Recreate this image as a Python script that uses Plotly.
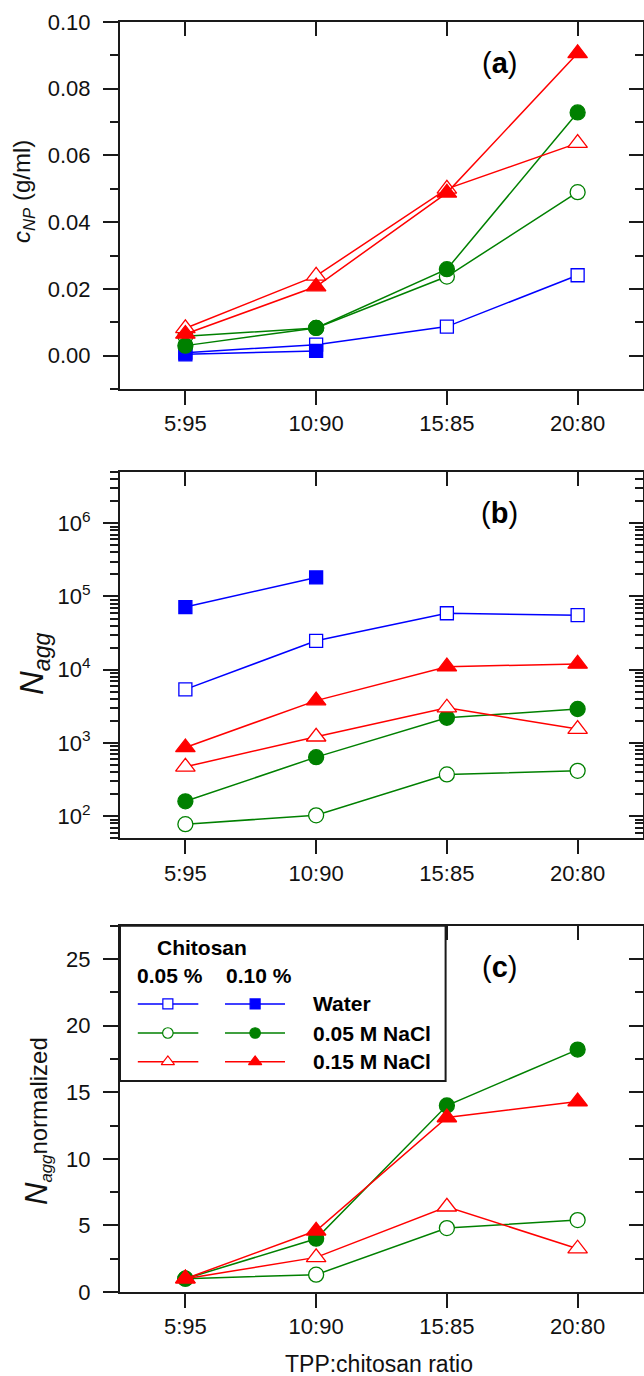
import math
import plotly.graph_objects as go

# ---------------- data ----------------
categories = ["5:95", "10:90", "15:85", "20:80"]
solvents = ["Water", "0.05 M NaCl", "0.15 M NaCl"]
chitosan_conc = ["0.05 %", "0.10 %"]

# (a) c_NP (g/ml)
cnp_water_005 = [0.0009, 0.0033, 0.0087, 0.0241]
cnp_water_010 = [0.0004, 0.0014, None, None]
cnp_nacl005_005 = [0.0058, 0.0083, 0.0237, 0.0490]
cnp_nacl005_010 = [0.0030, 0.0083, 0.0259, 0.0729]
cnp_nacl015_005 = [0.0082, 0.0239, 0.0500, 0.0637]
cnp_nacl015_010 = [0.0065, 0.0207, 0.0488, 0.0906]

# (b) N_agg
nagg_water_005 = [5400, 24800, 59000, 55600]
nagg_water_010 = [71600, 182000, None, None]
nagg_nacl005_005 = [78, 103, 372, 417]
nagg_nacl005_010 = [160, 641, 2210, 2910]
nagg_nacl015_005 = [473, 1216, 3030, 1550]
nagg_nacl015_010 = [869, 3790, 11000, 12000]

# (c) N_agg normalized
norm_nacl005_005 = [1.0, 1.3, 4.8, 5.4]
norm_nacl005_010 = [1.0, 4.0, 14.0, 18.2]
norm_nacl015_005 = [1.0, 2.6, 6.4, 3.25]
norm_nacl015_010 = [1.0, 4.6, 13.1, 14.3]

panel_labels = ["a", "b", "c"]
ya_title = "<i>c</i><sub><i>NP</i></sub> (g/ml)"
yb_title = "<i>N</i><sub><i>agg</i></sub>"
yc_title = "<i><span style='font-size:31px'>N</span></i><sub><i>agg</i></sub>normalized"
x_title = "TPP:chitosan ratio"
log_major = [1e2, 1e3, 1e4, 1e5, 1e6]
log_major_text = ["10<sup>2</sup>", "10<sup>3</sup>", "10<sup>4</sup>", "10<sup>5</sup>", "10<sup>6</sup>"]

# ---------------- style ----------------
FONT = "Liberation Sans, Arial, Helvetica, sans-serif"
AXC = "#1a1a1a"
colors = {"Water": "#0000ff", "0.05 M NaCl": "#008000", "0.15 M NaCl": "#ff0000"}
symbols = {"Water": "square", "0.05 M NaCl": "circle", "0.15 M NaCl": "triangle-up"}
msize = {"Water": 13, "0.05 M NaCl": 15, "0.15 M NaCl": 17}
lsize = {"Water": 10, "0.05 M NaCl": 10.5, "0.15 M NaCl": 11.5}

fig = go.Figure()


def add_series(y, solvent, filled, xa, ya):
    col = colors[solvent]
    fig.add_trace(go.Scatter(
        x=categories, y=y, mode="lines+markers",
        line=dict(color=col, width=1.5),
        marker=dict(symbol=symbols[solvent], size=msize[solvent],
                    color=col if filled else "white",
                    line=dict(color=col, width=1.3)),
        xaxis=xa, yaxis=ya, showlegend=False, hoverinfo="skip"))


panel_a = [(cnp_water_005, "Water", False), (cnp_water_010, "Water", True),
           (cnp_nacl005_005, "0.05 M NaCl", False), (cnp_nacl005_010, "0.05 M NaCl", True),
           (cnp_nacl015_005, "0.15 M NaCl", False), (cnp_nacl015_010, "0.15 M NaCl", True)]
panel_b = [(nagg_water_005, "Water", False), (nagg_water_010, "Water", True),
           (nagg_nacl005_005, "0.05 M NaCl", False), (nagg_nacl005_010, "0.05 M NaCl", True),
           (nagg_nacl015_005, "0.15 M NaCl", False), (nagg_nacl015_010, "0.15 M NaCl", True)]
panel_c = [(norm_nacl005_005, "0.05 M NaCl", False), (norm_nacl005_010, "0.05 M NaCl", True),
           (norm_nacl015_005, "0.15 M NaCl", False), (norm_nacl015_010, "0.15 M NaCl", True)]

for y, s, f in panel_a:
    add_series(y, s, f, "x", "y")
for y, s, f in panel_b:
    add_series(y, s, f, "x2", "y2")
for y, s, f in panel_c:
    add_series(y, s, f, "x3", "y3")

# dummy traces to activate mirror-tick overlay axes
for xa, ya in [("x4", "y4"), ("x5", "y5"), ("x6", "y6")]:
    fig.add_trace(go.Scatter(x=categories, y=[None] * len(categories), xaxis=xa, yaxis=ya,
                             showlegend=False, hoverinfo="skip", mode="markers"))

# ---------------- legend (panel c) ----------------
leg_rows_y = [0.496, 0.309, 0.124]
leg_cols = [(0.0547, 0.2405, 0.147), (0.3225, 0.5068, 0.415)]
for r, solvent in enumerate(solvents):
    col = colors[solvent]
    for c, (x0, x1, xm) in enumerate(leg_cols):
        filled = c == 1
        fig.add_trace(go.Scatter(x=[x0, x1], y=[leg_rows_y[r]] * 2, mode="lines",
                                 line=dict(color=col, width=1.5), xaxis="x7", yaxis="y7",
                                 showlegend=False, hoverinfo="skip"))
        fig.add_trace(go.Scatter(x=[xm], y=[leg_rows_y[r]], mode="markers",
                                 marker=dict(symbol=symbols[solvent], size=lsize[solvent],
                                             color=col if filled else "white",
                                             line=dict(color=col, width=1.2)),
                                 xaxis="x7", yaxis="y7", showlegend=False, hoverinfo="skip"))

annotations = []
for r, solvent in enumerate(solvents):
    annotations.append(dict(x=0.588, y=leg_rows_y[r], xref="x7", yref="y7", text="<b>%s</b>" % solvent,
                            showarrow=False, xanchor="left", yanchor="middle",
                            font=dict(family=FONT, size=21, color="black")))
annotations.append(dict(x=0.252, y=0.860, xref="x7", yref="y7", text="<b>Chitosan</b>",
                        showarrow=False, xanchor="center", yanchor="middle",
                        font=dict(family=FONT, size=21, color="black")))
for c, txt in enumerate(chitosan_conc):
    annotations.append(dict(x=[0.155, 0.427][c], y=0.677, xref="x7", yref="y7", text="<b>%s</b>" % txt,
                            showarrow=False, xanchor="center", yanchor="middle",
                            font=dict(family=FONT, size=21, color="black")))

# ---------------- layout ----------------
W, H = 644, 1376
L, R, T, B = 120, 1, 22, 84
ph = H - T - B
pw = W - L - R


def py(pix):
    return (H - B - pix) / ph


def px(pix):
    return (pix - L) / pw


dom_a = [py(389), 1.0]
dom_b = [py(838.3), py(472)]
dom_c = [0.0, py(925.7)]

tickfont = dict(family=FONT, size=22, color="#111")


def xmain(anchor):
    return dict(type="category", categoryorder="array", categoryarray=categories,
                range=[-0.5, 3.5], domain=[0, 1], anchor=anchor, automargin=False,
                showline=True, linewidth=2, linecolor=AXC, mirror=True,
                ticks="outside", ticklen=14, tickwidth=1.5, tickcolor=AXC,
                tickfont=tickfont, showgrid=False, zeroline=False, ticklabelstandoff=0)


def xtop(over, anchor):
    return dict(type="category", categoryorder="array", categoryarray=categories,
                range=[-0.5, 3.5], overlaying=over, side="top", anchor=anchor, automargin=False,
                showline=False, ticks="inside", ticklen=14, tickwidth=1.5, tickcolor=AXC,
                showticklabels=False, showgrid=False, zeroline=False)


minor_log = [k * 10 ** e for e in range(1, 7) for k in range(2, 10) if 50 <= k * 10 ** e <= 5e6]

layout = dict(
    template="none",
    width=W, height=H, margin=dict(l=L, r=R, t=T, b=B, autoexpand=False),
    paper_bgcolor="white", plot_bgcolor="white", showlegend=False,
    font=dict(family=FONT, color="#111"),
    xaxis=xmain("y"), xaxis2=xmain("y2"), xaxis3=xmain("y3"),
    xaxis4=xtop("x", "y"), xaxis5=xtop("x2", "y2"), xaxis6=xtop("x3", "y3"),
    yaxis=dict(domain=dom_a, anchor="x", range=[-0.01, 0.10], tick0=0, dtick=0.02, tickformat=".2f",
               showline=True, linewidth=2, linecolor=AXC, mirror=True, automargin=False,
               ticks="outside", ticklen=15, tickwidth=1.5, tickcolor=AXC, tickfont=tickfont,
               minor=dict(tick0=0, dtick=0.01, ticks="outside", ticklen=8, tickwidth=1.5, tickcolor=AXC),
               showgrid=False, zeroline=False, ticklabelstandoff=8),
    yaxis4=dict(overlaying="y", side="right", anchor="x", range=[-0.01, 0.10], tick0=0, dtick=0.02,
                ticks="inside", ticklen=14, tickwidth=1.5, tickcolor=AXC, showticklabels=False,
                minor=dict(tick0=0, dtick=0.01, ticks="inside", ticklen=8, tickwidth=1.5, tickcolor=AXC),
                showline=False, showgrid=False, zeroline=False, automargin=False),
    yaxis2=dict(domain=dom_b, anchor="x2", type="log", range=[math.log10(50), math.log10(5e6)],
                tickmode="array", tickvals=log_major, ticktext=log_major_text,
                showline=True, linewidth=2, linecolor=AXC, mirror=True, automargin=False,
                ticks="outside", ticklen=15, tickwidth=1.5, tickcolor=AXC, tickfont=tickfont,
                minor=dict(tickmode="array", tickvals=minor_log,
                           ticks="outside", ticklen=8, tickwidth=1.5, tickcolor=AXC),
                showgrid=False, zeroline=False, ticklabelstandoff=8),
    yaxis5=dict(overlaying="y2", side="right", anchor="x2", type="log", range=[math.log10(50), math.log10(5e6)],
                tickmode="array", tickvals=log_major, ticks="inside", ticklen=14, tickwidth=1.5, tickcolor=AXC,
                showticklabels=False, automargin=False,
                minor=dict(tickmode="array", tickvals=minor_log,
                           ticks="inside", ticklen=8, tickwidth=1.5, tickcolor=AXC),
                showline=False, showgrid=False, zeroline=False),
    yaxis3=dict(domain=dom_c, anchor="x3", range=[0, 27.5], tick0=0, dtick=5,
                showline=True, linewidth=2, linecolor=AXC, mirror=True, automargin=False,
                ticks="outside", ticklen=15, tickwidth=1.5, tickcolor=AXC, tickfont=tickfont,
                minor=dict(tick0=0, dtick=2.5, ticks="outside", ticklen=8, tickwidth=1.5, tickcolor=AXC),
                showgrid=False, zeroline=False, ticklabelstandoff=8),
    yaxis6=dict(overlaying="y3", side="right", anchor="x3", range=[0, 27.5], tick0=0, dtick=5,
                ticks="inside", ticklen=14, tickwidth=1.5, tickcolor=AXC, showticklabels=False,
                minor=dict(tick0=0, dtick=2.5, ticks="inside", ticklen=8, tickwidth=1.5, tickcolor=AXC),
                showline=False, showgrid=False, zeroline=False, automargin=False),
    xaxis7=dict(domain=[0, px(445.6)], anchor="y7", range=[0, 1], visible=False, fixedrange=True),
    yaxis7=dict(domain=[py(1081), py(925.7)], anchor="x7", range=[0, 1], visible=False, fixedrange=True),
)

# panel labels
for lab, yref in zip(panel_labels, ["y", "y2", "y3"]):
    annotations.append(dict(x=px(499), y=0.888, xref="paper", yref=yref + " domain",
                            text="(<b>%s</b>)" % lab, showarrow=False, xanchor="center", yanchor="middle",
                            font=dict(family=FONT, size=29, color="black")))

# axis titles
annotations += [
    dict(x=px(24), y=py(192), xref="paper", yref="paper", text=ya_title, textangle=-90,
         showarrow=False, xanchor="center", yanchor="middle", font=dict(family=FONT, size=24, color="#111")),
    dict(x=px(34), y=py(664), xref="paper", yref="paper", text=yb_title, textangle=-90,
         showarrow=False, xanchor="center", yanchor="middle", font=dict(family=FONT, size=33, color="#111")),
    dict(x=px(37), y=py(1121), xref="paper", yref="paper", text=yc_title, textangle=-90,
         showarrow=False, xanchor="center", yanchor="middle", font=dict(family=FONT, size=24, color="#111")),
    dict(x=px(379), y=py(1364), xref="paper", yref="paper", text=x_title,
         showarrow=False, xanchor="center", yanchor="middle", font=dict(family=FONT, size=23, color="#111")),
]

layout["annotations"] = annotations
layout["shapes"] = [dict(type="rect", xref="paper", yref="paper", x0=0, x1=px(445.6),
                         y0=py(1081), y1=py(925.7), line=dict(color=AXC, width=2),
                         fillcolor="rgba(0,0,0,0)")]

fig.update_layout(**layout)
fig.write_html("out.html", config={"displayModeBar": False},
               post_script="document.body.style.margin='0';document.body.style.overflow='hidden';")
